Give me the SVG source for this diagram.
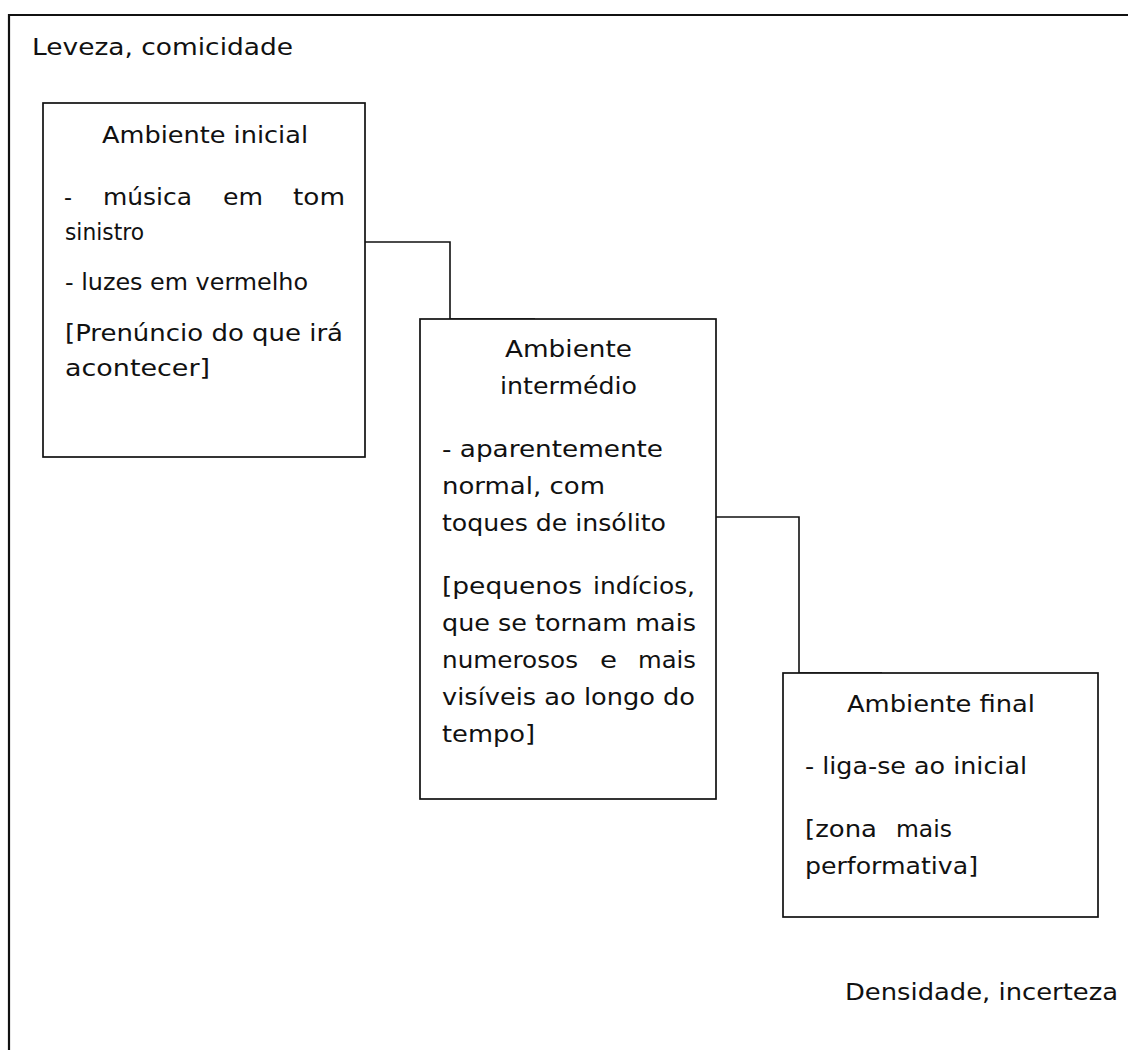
<svg xmlns="http://www.w3.org/2000/svg" width="1128" height="1050" viewBox="0 0 1128 1050">
<style>
  .frame { fill: none; stroke: #111; stroke-width: 2.2; }
  .box { fill: #fff; stroke: #111; stroke-width: 1.7; }
  .conn { fill: none; stroke: #111; stroke-width: 1.6; }
  text { font-family: "DejaVu Sans", "Liberation Sans", sans-serif; font-size: 23px; fill: #111; }
</style>
<rect width="1128" height="1050" fill="#fff"/>
<g id="frame">
  <path class="frame" d="M9,1050 V15 H1128"/>
  <text x="32" y="55" textLength="261" lengthAdjust="spacingAndGlyphs">Leveza, comicidade</text>
  <text x="845" y="1000" textLength="273" lengthAdjust="spacingAndGlyphs">Densidade, incerteza</text>
</g>
<g id="connectors">
  <path class="conn" d="M365,242 H450 V319 H535"/>
  <path class="conn" d="M716,517 H799 V673 H882"/>
</g>
<g id="node-inicial">
  <rect class="box" x="43" y="103" width="322" height="354"/>
  <text x="102" y="143" textLength="206" lengthAdjust="spacingAndGlyphs">Ambiente inicial</text>
  <text x="64" y="205" textLength="8" lengthAdjust="spacingAndGlyphs">-</text>
  <text x="103" y="205" textLength="89" lengthAdjust="spacingAndGlyphs">música</text>
  <text x="223" y="205" textLength="40" lengthAdjust="spacingAndGlyphs">em</text>
  <text x="293" y="205" textLength="52" lengthAdjust="spacingAndGlyphs">tom</text>
  <text x="65" y="240" textLength="79" lengthAdjust="spacingAndGlyphs">sinistro</text>
  <text x="65" y="290" textLength="243" lengthAdjust="spacingAndGlyphs">- luzes em vermelho</text>
  <text x="65" y="341" textLength="278" lengthAdjust="spacingAndGlyphs">[Prenúncio do que irá</text>
  <text x="65" y="376" textLength="145" lengthAdjust="spacingAndGlyphs">acontecer]</text>
</g>
<g id="node-intermedio">
  <rect class="box" x="420" y="319" width="296" height="480"/>
  <text x="505" y="357" textLength="127" lengthAdjust="spacingAndGlyphs">Ambiente</text>
  <text x="500" y="394" textLength="137" lengthAdjust="spacingAndGlyphs">intermédio</text>
  <text x="442" y="457" textLength="221" lengthAdjust="spacingAndGlyphs">- aparentemente</text>
  <text x="442" y="494" textLength="163" lengthAdjust="spacingAndGlyphs">normal, com</text>
  <text x="442" y="531" textLength="224" lengthAdjust="spacingAndGlyphs">toques de insólito</text>
  <text x="442" y="594" textLength="140" lengthAdjust="spacingAndGlyphs">[pequenos</text>
  <text x="593" y="594" textLength="102" lengthAdjust="spacingAndGlyphs">indícios,</text>
  <text x="442" y="631" textLength="254" lengthAdjust="spacingAndGlyphs">que se tornam mais</text>
  <text x="442" y="668" textLength="136" lengthAdjust="spacingAndGlyphs">numerosos</text>
  <text x="600" y="668" textLength="17" lengthAdjust="spacingAndGlyphs">e</text>
  <text x="638" y="668" textLength="58" lengthAdjust="spacingAndGlyphs">mais</text>
  <text x="442" y="705" textLength="253" lengthAdjust="spacingAndGlyphs">visíveis ao longo do</text>
  <text x="442" y="742" textLength="93" lengthAdjust="spacingAndGlyphs">tempo]</text>
</g>
<g id="node-final">
  <rect class="box" x="783" y="673" width="315" height="244"/>
  <text x="847" y="712" textLength="188" lengthAdjust="spacingAndGlyphs">Ambiente final</text>
  <text x="805" y="774" textLength="222" lengthAdjust="spacingAndGlyphs">- liga-se ao inicial</text>
  <text x="805" y="837" textLength="72" lengthAdjust="spacingAndGlyphs">[zona</text>
  <text x="896" y="837" textLength="56" lengthAdjust="spacingAndGlyphs">mais</text>
  <text x="805" y="874" textLength="173" lengthAdjust="spacingAndGlyphs">performativa]</text>
</g>
</svg>
